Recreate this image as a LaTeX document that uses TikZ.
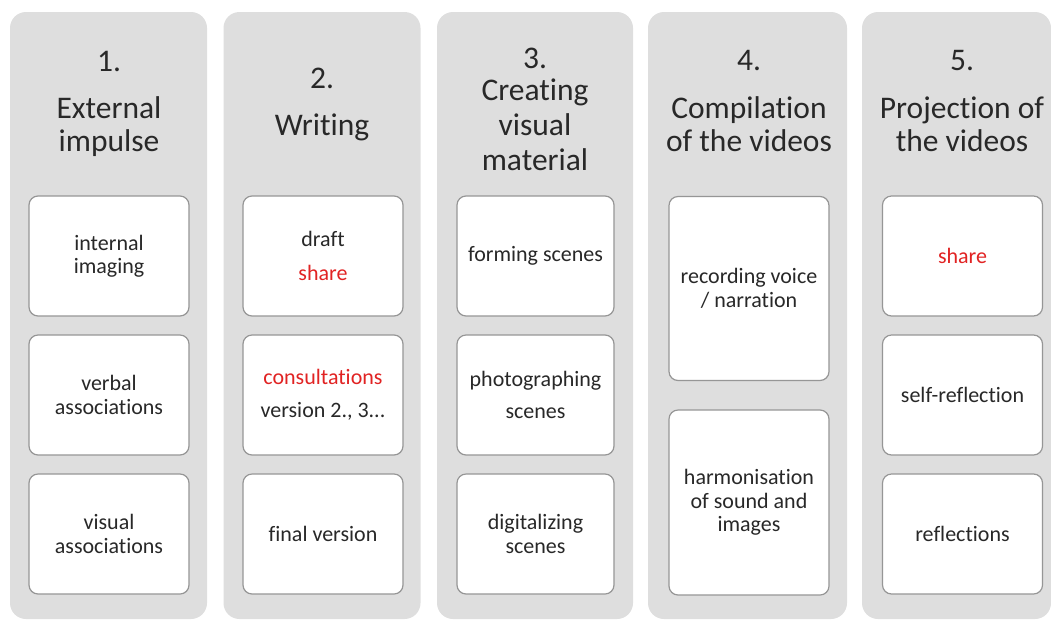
\documentclass[tikz,border=0pt]{standalone}
\usepackage{fontspec}
\setmainfont{Carlito}[Ligatures=NoCommon]

\definecolor{lanegrey}{RGB}{222,222,222}
\definecolor{boxgrey}{RGB}{150,150,150}
\definecolor{txtgrey}{RGB}{40,40,40}
\definecolor{sharered}{RGB}{225,35,35}

\begin{document}
\begin{tikzpicture}[x=1pt, y=-1pt,
  lane/.style={fill=lanegrey, rounded corners=16pt, minimum width=197pt, minimum height=607pt, inner sep=0pt},
  stepnum/.style={anchor=base, text=txtgrey, font=\fontsize{31.5}{33}\selectfont},
  heading/.style={anchor=base, align=center, text=txtgrey, font=\fontsize{31.5}{33}\selectfont},
  item/.style={draw=boxgrey, line width=1.2pt, fill=white, rounded corners=9pt, minimum width=160pt, minimum height=120pt, inner sep=0pt, align=center, text=txtgrey, font=\fontsize{22}{23.5}\selectfont},
  tall/.style={item, minimum height=184pt}
]
\useasboundingbox (0,0) rectangle (1051,622);

% lanes
\node[lane] (L1) at (108.5, 315.5) {};
\node[lane] (L2) at (322, 315.5) {};
\node[lane, minimum width=196pt] (L3) at (535, 315.5) {};
\node[lane, minimum width=199pt] (L4) at (747.5, 315.5) {};
\node[lane, minimum width=189pt] (L5) at (956.5, 315.5) {};

% headings (base = last line)
\node[stepnum] (N1) at (109, 71) {1.};
\node[heading] (H1) at (109, 151) {External\\impulse};
\node[stepnum] (N2) at (322, 88) {2.};
\node[heading] (H2) at (322, 135) {Writing};
\node[stepnum] (N3) at (535, 68) {3.};
\node[heading, font=\fontsize{31.5}{35}\selectfont] (H3) at (535, 170) {Creating\\visual\\material};
\node[stepnum] (N4) at (749, 70) {4.};
\node[heading] (H4) at (749, 151) {Compilation\\of the videos};
\node[stepnum] (N5) at (962, 70) {5.};
\node[heading] (H5) at (962, 151) {Projection of\\the videos};

% boxes
\node[item] (A1) at (109, 256) {internal\\imaging};
\node[item] (A2) at (109, 395) {verbal\\associations};
\node[item] (A3) at (109, 534) {visual\\associations};

\node[item] (B1) at (323, 256) {draft\\[10pt]\textcolor{sharered}{share}};
\node[item] (B2) at (323, 395) {\textcolor{sharered}{consultations}\\[10pt]version 2., 3...};
\node[item] (B3) at (323, 534) {final version};

\node[item, minimum width=157pt] (C1) at (535.5, 256) {forming scenes};
\node[item, minimum width=157pt] (C2) at (535.5, 395) {photographing\\[8pt]scenes};
\node[item, minimum width=157pt] (C3) at (535.5, 534) {digitalizing\\scenes};

\node[tall] (D1) at (749, 288.5) {recording voice\\/ narration};
\node[tall, minimum height=185pt] (D2) at (749, 502.5) {harmonisation\\of sound and\\images};

\node[item] (E1) at (962.5, 256) {\textcolor{sharered}{share}};
\node[item] (E2) at (962.5, 395) {self-reflection};
\node[item] (E3) at (962.5, 534) {reflections};

\end{tikzpicture}
\end{document}
